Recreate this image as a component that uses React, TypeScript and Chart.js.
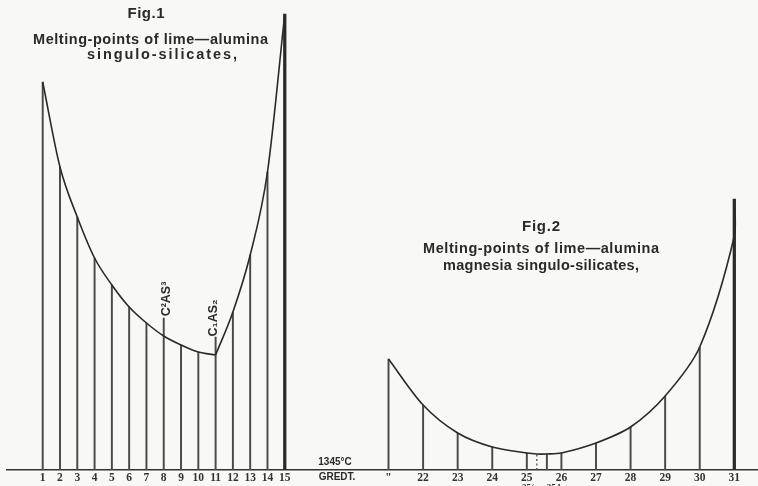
import React, { useEffect, useRef } from 'react';
import { Chart, registerables } from 'chart.js';

Chart.register(...registerables);

// Baseline temperature of the diagram
const BASE_TEMP = 1345;

// Fig.1 — lime–alumina singulo-silicates
const fig1Numbers = [1, 2, 3, 4, 5, 6, 7, 8, 9, 10, 11, 12, 13, 14, 15];
const fig1Curve = [1733, 1648, 1598, 1557, 1530, 1508, 1492, 1479, 1470, 1463, 1460, 1503, 1560, 1643, 1801];
const fig1Ordinates = [1733, 1648, 1598, 1557, 1530, 1508, 1492, 1497, 1470, 1463, 1478, 1503, 1560, 1643, 1801];
const fig1KinkNumber = 11;
const fig1TickLabels = ['1', '2', '3', '4', '5', '6', '7', '8', '9', '10', '11', '12', '13', '14', '15'];

// Fig.2 — lime–alumina magnesia singulo-silicates
const fig2Numbers = [21, 22, 23, 24, 25, 25.29, 25.58, 26, 27, 28, 29, 30, 31];
const fig2Curve = [1456, 1410, 1382, 1368, 1362, 1361, 1361, 1362, 1372, 1388, 1419, 1468, 1579];
const fig2Ordinates = [1456, 1410, 1382, 1368, 1362, 1361, 1361, 1362, 1372, 1388, 1419, 1468, 1616];
const fig2DottedNumbers = [25.29];
const fig2TickNumbers = [21, 22, 23, 24, 25, 26, 27, 28, 29, 30, 31];
const fig2TickLabels = ['"', '22', '23', '24', '25', '26', '27', '28', '29', '30', '31'];

// Fig.2 is drawn on the shared axis at half spacing, starting at its first number
const FIG2_START = 21;
const FIG2_STEP = 2;
const heavyOrdinates = [15, 31];

const fig2Pos = (n: number) => FIG2_START + (n - FIG2_START) * FIG2_STEP;

const INK = '#2a2a2a';
const RULE = '#4a4a4a';
const PAPER = '#f8f8f6';
const SANS = '"Liberation Sans", Arial, sans-serif';
const SERIF = '"Liberation Serif", "Times New Roman", serif';

export default function App() {
  const ref = useRef<HTMLCanvasElement | null>(null);

  useEffect(() => {
    const canvas = ref.current;
    if (!canvas) return;

    const tickMap = new Map<number, string>();
    fig1Numbers.forEach((n, i) => tickMap.set(n, fig1TickLabels[i]));
    fig2TickNumbers.forEach((n, i) => tickMap.set(fig2Pos(n), fig2TickLabels[i]));
    const tickValues = Array.from(tickMap.keys());

    const f1 = fig1Numbers.map((n, i) => ({ n, x: n, c: fig1Curve[i], o: fig1Ordinates[i] }));
    const f2 = fig2Numbers.map((n, i) => ({ n, x: fig2Pos(n), c: fig2Curve[i], o: fig2Ordinates[i] }));
    const all = [...f1, ...f2];

    const solidOrds = all.filter((p) => !fig2DottedNumbers.includes(p.n) && !heavyOrdinates.includes(p.n));
    const heavyOrds = all.filter((p) => heavyOrdinates.includes(p.n));
    const dotted = f2.filter((p) => fig2DottedNumbers.includes(p.n));

    // Fig.2 curve meets the last ordinate and runs up along it to its top
    const last2 = f2[f2.length - 1];
    const fig2CurveData = [...f2.map((p) => ({ x: p.x, y: p.c })), { x: last2.x, y: last2.o }];

    const curveStyle = {
      type: 'line' as const,
      borderColor: INK,
      borderWidth: 1.6,
      pointRadius: 0,
      cubicInterpolationMode: 'monotone' as const,
      fill: false,
      order: 0,
    };

    const textPlugin = {
      id: 'figText',
      beforeDraw(chart: any) {
        const { ctx, width, height } = chart;
        ctx.save();
        ctx.fillStyle = PAPER;
        ctx.fillRect(0, 0, width, height);
        ctx.restore();
      },
      afterDraw(chart: any) {
        const { ctx } = chart;
        const xs = chart.scales.x;
        const ys = chart.scales.y;
        const txt = (
          t: string,
          x: number,
          y: number,
          font: string,
          opts: { rot?: number; width?: number } = {}
        ) => {
          ctx.save();
          ctx.translate(x, y);
          if (opts.rot) ctx.rotate(opts.rot);
          ctx.font = font;
          ctx.fillStyle = INK;
          ctx.textAlign = 'center';
          ctx.textBaseline = 'middle';
          if (opts.width) {
            const w = ctx.measureText(t).width;
            const ls = (opts.width - w) / Math.max(1, t.length - 1);
            (ctx as any).letterSpacing = `${ls}px`;
            ctx.fillText(t, ls / 2, 0);
          } else {
            ctx.fillText(t, 0, 0);
          }
          ctx.restore();
        };
        txt('Fig.1', 146, 14, `bold 15px ${SANS}`, { width: 37 });
        txt('Melting-points of lime—alumina', 150.5, 40, `bold 14.5px ${SANS}`, { width: 235 });
        txt('singulo-silicates,', 162, 55, `bold 14.5px ${SANS}`, { width: 150 });
        txt('Fig.2', 541, 227, `bold 15px ${SANS}`, { width: 38 });
        txt('Melting-points of lime—alumina', 541, 249, `bold 14.5px ${SANS}`, { width: 236 });
        txt('magnesia singulo-silicates,', 541, 266, `bold 14.5px ${SANS}`, { width: 196 });
        txt('1345°C', 335, 462, `bold 10px ${SANS}`);
        txt('GREDT.', 337, 477, `bold 10px ${SANS}`);

        const i8 = fig1Numbers.indexOf(8);
        txt('C²AS³', xs.getPixelForValue(8) + 2.5, ys.getPixelForValue(fig1Ordinates[i8]) - 19, `bold 12.5px ${SANS}`, { rot: -Math.PI / 2 });
        const i11 = fig1Numbers.indexOf(11);
        txt('C₁AS₂', xs.getPixelForValue(11) - 2, ys.getPixelForValue(fig1Ordinates[i11]) - 19, `bold 12.5px ${SANS}`, { rot: -Math.PI / 2 });

        txt('25/a', 530, 488, `bold 9px ${SERIF}`);
        txt('25 b', 555, 488, `bold 9px ${SERIF}`);
      },
    };

    const chart = new Chart(canvas, {
      type: 'bar',
      data: {
        datasets: [
          {
            ...curveStyle,
            label: 'Fig.1 left',
            data: f1.filter((p) => p.n <= fig1KinkNumber).map((p) => ({ x: p.x, y: p.c })),
          } as any,
          {
            ...curveStyle,
            label: 'Fig.1 right',
            data: f1.filter((p) => p.n >= fig1KinkNumber).map((p) => ({ x: p.x, y: p.c })),
          } as any,
          {
            ...curveStyle,
            cubicInterpolationMode: 'default',
            tension: 0.3,
            label: 'Fig.2',
            data: fig2CurveData,
          } as any,
          {
            type: 'bar',
            label: 'ordinates',
            data: solidOrds.map((p) => ({ x: p.x, y: p.o })),
            backgroundColor: RULE,
            borderWidth: 0,
            barThickness: 1.3,
            grouped: false,
            order: 1,
          } as any,
          {
            type: 'bar',
            label: 'end ordinates',
            data: heavyOrds.map((p) => ({ x: p.x, y: p.o })),
            backgroundColor: INK,
            borderWidth: 0,
            barThickness: 2.6,
            grouped: false,
            order: 1,
          } as any,
          ...dotted.map((p) => ({
            type: 'line',
            label: 'dotted',
            data: [
              { x: p.x, y: BASE_TEMP },
              { x: p.x, y: p.o },
            ],
            borderColor: RULE,
            borderWidth: 1.3,
            borderDash: [2, 2.5],
            pointRadius: 0,
            order: 1,
          } as any)),
        ],
      },
      options: {
        responsive: false,
        animation: false,
        devicePixelRatio: 1,
        layout: { padding: { left: 7, right: 0, top: 0, bottom: 0 } },
        plugins: {
          legend: { display: false },
          tooltip: { enabled: false },
          title: { display: false },
        },
        scales: {
          x: {
            type: 'linear',
            min: -1.065,
            max: 42.37,
            offset: false,
            grid: { display: false, drawTicks: false },
            border: { display: true, color: '#333', width: 1.5 },
            ticks: {
              autoSkip: false,
              maxRotation: 0,
              minRotation: 0,
              padding: 1,
              color: '#333',
              font: { family: SERIF, size: 11.5, weight: 'bold' },
              callback: (v: any) => tickMap.get(Number(v)) ?? '',
            },
            afterBuildTicks: (scale: any) => {
              scale.ticks = tickValues.map((value) => ({ value }));
            },
            afterFit: (scale: any) => {
              scale.height = 16;
            },
          },
          y: {
            type: 'linear',
            display: false,
            min: BASE_TEMP,
            max: 1815,
          },
        },
      } as any,
      plugins: [textPlugin],
    });

    return () => chart.destroy();
  }, []);

  return (
    <div style={{ position: 'fixed', left: 0, top: 0, width: 758, height: 486 }}>
      <canvas ref={ref} width={758} height={486} style={{ display: 'block' }} />
    </div>
  );
}
